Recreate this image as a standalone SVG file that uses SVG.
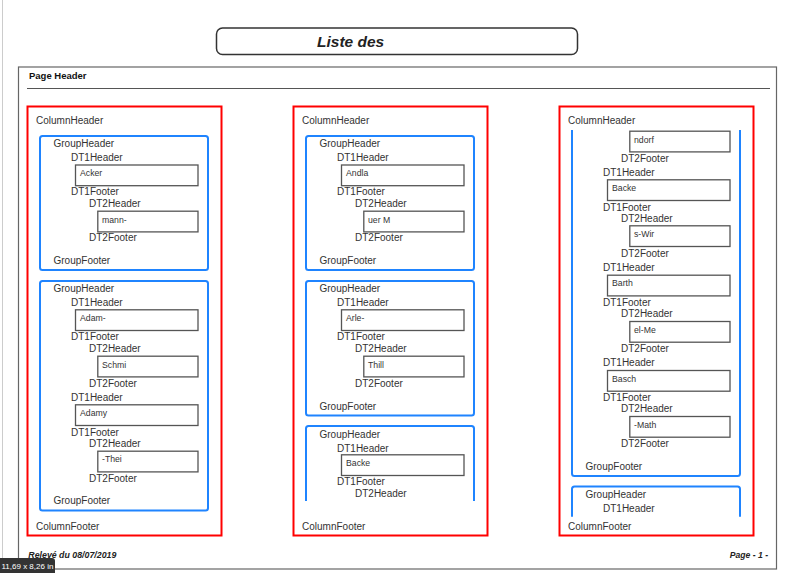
<svg xmlns="http://www.w3.org/2000/svg" width="800" height="575" viewBox="0 0 800 575">
<style>
text{font-family:"Liberation Sans",Arial,sans-serif}
.lbl{font-size:10px;fill:#333}
.btx{font-size:8.7px;fill:#333}
.col{fill:none;stroke:#f00;stroke-width:2}
.grp{fill:none;stroke:#1f84ff;stroke-width:2}
.box{fill:#fff;stroke:#555;stroke-width:1.3}
.bi{font-weight:bold;font-style:italic;fill:#222}
</style>
<rect x="0" y="0" width="800" height="575" fill="#fff"/>
<line x1="2.5" y1="0" x2="2.5" y2="558" stroke="#ccc" stroke-width="1"/>
<g id="title">
<rect x="216.5" y="28" width="361" height="26.5" rx="6" fill="#fff" stroke="#333" stroke-width="1.5"/>
<text class="bi" x="317" y="46.5" font-size="15.5">Liste des</text>
</g>
<g id="page">
<rect x="18.5" y="67" width="758" height="502" fill="none" stroke="#666" stroke-width="1.2"/>
<text x="29" y="79.3" font-size="9.5" font-weight="bold" fill="#111">Page Header</text>
<line x1="27" y1="88.5" x2="770" y2="88.5" stroke="#555" stroke-width="1"/>
<text class="bi" x="28.3" y="557.7" font-size="8.8">Relevé du 08/07/2019</text>
<text class="bi" x="768" y="557.7" font-size="8.6" text-anchor="end">Page - 1 -</text>
</g>
<g id="connectors"/>

<g id="col1">
<rect class="col" x="27.5" y="106.5" width="194" height="429"/>
<text class="lbl" x="36" y="123.5">ColumnHeader</text>
<g id="c1g1">
<rect class="grp" x="40" y="136" width="168" height="134" rx="2.5"/>
<text class="lbl" x="53.5" y="147.3">GroupHeader</text>
<text class="lbl" x="71" y="161">DT1Header</text>
<g id="c1b1"><rect class="box" x="75.5" y="165" width="122.5" height="20.7"/><text class="btx" x="80" y="176.3">Acker</text></g>
<text class="lbl" x="71" y="195">DT1Footer</text>
<text class="lbl" x="89" y="207.3">DT2Header</text>
<g id="c1b2"><rect class="box" x="97.8" y="211.2" width="100.2" height="20.7"/><text class="btx" x="102" y="222.7">mann-</text></g>
<text class="lbl" x="89" y="241">DT2Footer</text>
<text class="lbl" x="53.5" y="264.3">GroupFooter</text>
</g>
<g id="c1g2">
<rect class="grp" x="40" y="281" width="168" height="229.5" rx="2.5"/>
<text class="lbl" x="53.5" y="292.3">GroupHeader</text>
<text class="lbl" x="71" y="306">DT1Header</text>
<g id="c1b3"><rect class="box" x="75.5" y="309.8" width="122.5" height="20.7"/><text class="btx" x="80" y="320.9">Adam-</text></g>
<text class="lbl" x="71" y="340">DT1Footer</text>
<text class="lbl" x="89" y="352.3">DT2Header</text>
<g id="c1b4"><rect class="box" x="97.8" y="356.2" width="100.2" height="20.7"/><text class="btx" x="102" y="367.5">Schmi</text></g>
<text class="lbl" x="89" y="386.7">DT2Footer</text>
<text class="lbl" x="71" y="400.7">DT1Header</text>
<g id="c1b5"><rect class="box" x="75.5" y="404.8" width="122.5" height="20.7"/><text class="btx" x="80" y="415.7">Adamy</text></g>
<text class="lbl" x="71" y="435.7">DT1Footer</text>
<text class="lbl" x="89" y="447.3">DT2Header</text>
<g id="c1b6"><rect class="box" x="97.8" y="451.2" width="100.2" height="20.7"/><text class="btx" x="102" y="462.4">-Thei</text></g>
<text class="lbl" x="89" y="481.8">DT2Footer</text>
<text class="lbl" x="53.5" y="504">GroupFooter</text>
</g>
<text class="lbl" x="36" y="530">ColumnFooter</text>
</g>

<g id="col2" transform="translate(266,0)">
<rect class="col" x="27.5" y="106.5" width="194" height="429"/>
<text class="lbl" x="36" y="123.5">ColumnHeader</text>
<g id="c2g1">
<rect class="grp" x="40" y="136" width="168" height="134" rx="2.5"/>
<text class="lbl" x="53.5" y="147.3">GroupHeader</text>
<text class="lbl" x="71" y="161">DT1Header</text>
<g id="c2b1"><rect class="box" x="75.5" y="165" width="122.5" height="20.7"/><text class="btx" x="80" y="176.3">Andla</text></g>
<text class="lbl" x="71" y="195">DT1Footer</text>
<text class="lbl" x="89" y="207.3">DT2Header</text>
<g id="c2b2"><rect class="box" x="97.8" y="211.2" width="100.2" height="20.7"/><text class="btx" x="102" y="222.7">uer M</text></g>
<text class="lbl" x="89" y="241">DT2Footer</text>
<text class="lbl" x="53.5" y="264.3">GroupFooter</text>
</g>
<g id="c2g2">
<rect class="grp" x="40" y="281" width="168" height="134.5" rx="2.5"/>
<text class="lbl" x="53.5" y="292.3">GroupHeader</text>
<text class="lbl" x="71" y="306">DT1Header</text>
<g id="c2b3"><rect class="box" x="75.5" y="309.8" width="122.5" height="20.7"/><text class="btx" x="80" y="320.9">Arle-</text></g>
<text class="lbl" x="71" y="340">DT1Footer</text>
<text class="lbl" x="89" y="352.3">DT2Header</text>
<g id="c2b4"><rect class="box" x="97.8" y="356.2" width="100.2" height="20.7"/><text class="btx" x="102" y="367.5">Thill</text></g>
<text class="lbl" x="89" y="386.7">DT2Footer</text>
<text class="lbl" x="53.5" y="409.5">GroupFooter</text>
</g>
<g id="c2g3">
<path class="grp" d="M40,501 V428.5 Q40,426 42.5,426 H205.5 Q208,426 208,428.5 V501"/>
<text class="lbl" x="53.5" y="437.6">GroupHeader</text>
<text class="lbl" x="71" y="451.5">DT1Header</text>
<g id="c2b5"><rect class="box" x="75.5" y="454.8" width="122.5" height="20.7"/><text class="btx" x="80" y="465.8">Backe</text></g>
<text class="lbl" x="71" y="485">DT1Footer</text>
<text class="lbl" x="89" y="497.3">DT2Header</text>
</g>
<text class="lbl" x="36" y="530">ColumnFooter</text>
</g>

<g id="col3" transform="translate(532,0)">
<rect class="col" x="27.5" y="106.5" width="194" height="429"/>
<text class="lbl" x="36" y="123.5">ColumnHeader</text>
<g id="c3g1">
<path class="grp" d="M40,130 V473.5 Q40,476 42.5,476 H205.5 Q208,476 208,473.5 V130"/>
<g id="c3b1"><rect class="box" x="97.8" y="131.2" width="100.2" height="20.7"/><text class="btx" x="102" y="142.6">ndorf</text></g>
<text class="lbl" x="89" y="161.7">DT2Footer</text>
<text class="lbl" x="71" y="176">DT1Header</text>
<g id="c3b2"><rect class="box" x="75.5" y="179.8" width="122.5" height="20.7"/><text class="btx" x="80" y="190.8">Backe</text></g>
<text class="lbl" x="71" y="210.7">DT1Footer</text>
<text class="lbl" x="89" y="222.3">DT2Header</text>
<g id="c3b3"><rect class="box" x="97.8" y="225.8" width="100.2" height="20.7"/><text class="btx" x="102" y="237">s-Wir</text></g>
<text class="lbl" x="89" y="257">DT2Footer</text>
<text class="lbl" x="71" y="271">DT1Header</text>
<g id="c3b4"><rect class="box" x="75.5" y="275.2" width="122.5" height="20.7"/><text class="btx" x="80" y="286.2">Barth</text></g>
<text class="lbl" x="71" y="305.7">DT1Footer</text>
<text class="lbl" x="89" y="317.3">DT2Header</text>
<g id="c3b5"><rect class="box" x="97.8" y="321.5" width="100.2" height="20.7"/><text class="btx" x="102" y="332.5">el-Me</text></g>
<text class="lbl" x="89" y="352.3">DT2Footer</text>
<text class="lbl" x="71" y="366.3">DT1Header</text>
<g id="c3b6"><rect class="box" x="75.5" y="370.5" width="122.5" height="20.7"/><text class="btx" x="80" y="381.5">Basch</text></g>
<text class="lbl" x="71" y="401">DT1Footer</text>
<text class="lbl" x="89" y="412.3">DT2Header</text>
<g id="c3b7"><rect class="box" x="97.8" y="416.5" width="100.2" height="20.7"/><text class="btx" x="102" y="427.5">-Math</text></g>
<text class="lbl" x="89" y="447.3">DT2Footer</text>
<text class="lbl" x="53.5" y="470">GroupFooter</text>
</g>
<g id="c3g2">
<path class="grp" d="M40,516.7 V489 Q40,486.5 42.5,486.5 H205.5 Q208,486.5 208,489 V516.7"/>
<text class="lbl" x="53.5" y="497.8">GroupHeader</text>
<text class="lbl" x="71" y="511.7">DT1Header</text>
</g>
<text class="lbl" x="36" y="529.5">ColumnFooter</text>
</g>

<g id="sizeTip">
<path d="M0,558 H52 Q55,558 55,561 V573 H0 Z" fill="#333"/>
<text x="1.5" y="569" font-size="8" fill="#fff">11,69 x 8,26 in</text>
</g>
</svg>
